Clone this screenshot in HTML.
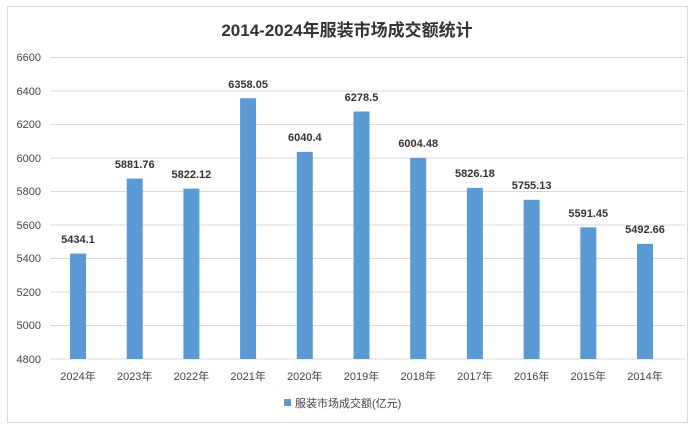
<!DOCTYPE html>
<html><head><meta charset="utf-8"><style>
body{margin:0;background:#fff;}
svg text{font-family:"Liberation Sans","Noto Sans CJK SC",sans-serif;}
</style></head><body>
<svg width="695" height="430" xmlns="http://www.w3.org/2000/svg">
<rect x="0" y="0" width="695" height="430" fill="#fff"/>
<rect x="7.5" y="6.5" width="680" height="416" fill="none" stroke="#d9d9d9"/>
<text x="347" y="36" text-anchor="middle" font-size="17" font-weight="bold" fill="#333">2014-2024年服装市场成交额统计</text>
<g stroke="#d9d9d9" stroke-width="1">
<line x1="50" x2="685" y1="57.5" y2="57.5"/><line x1="50" x2="685" y1="91" y2="91"/><line x1="50" x2="685" y1="124.5" y2="124.5"/><line x1="50" x2="685" y1="158" y2="158"/><line x1="50" x2="685" y1="191.5" y2="191.5"/><line x1="50" x2="685" y1="225" y2="225"/><line x1="50" x2="685" y1="258.5" y2="258.5"/><line x1="50" x2="685" y1="292" y2="292"/><line x1="50" x2="685" y1="325.5" y2="325.5"/><line x1="50" x2="685" y1="359" y2="359"/>
</g>
<g font-size="11" fill="#444" text-anchor="end">
<text x="41" y="61">6600</text><text x="41" y="95">6400</text><text x="41" y="128">6200</text><text x="41" y="162">6000</text><text x="41" y="195">5800</text><text x="41" y="229">5600</text><text x="41" y="262">5400</text><text x="41" y="296">5200</text><text x="41" y="329">5000</text><text x="41" y="363">4800</text>
</g>
<g fill="#5b9bd5">
<rect x="70" y="253.6" width="16" height="105.4"/>
<rect x="126.7" y="178.6" width="16" height="180.4"/>
<rect x="183.4" y="188.6" width="16" height="170.4"/>
<rect x="240.1" y="98.2" width="16" height="260.8"/>
<rect x="296.8" y="151.9" width="16" height="207.1"/>
<rect x="353.5" y="111.5" width="16" height="247.5"/>
<rect x="410.2" y="157.9" width="16" height="201.1"/>
<rect x="466.9" y="187.9" width="16" height="171.1"/>
<rect x="523.6" y="199.8" width="16" height="159.2"/>
<rect x="580.3" y="227.3" width="16" height="131.7"/>
<rect x="637" y="243.8" width="16" height="115.2"/>
</g>
<g font-size="11" font-weight="bold" fill="#333" text-anchor="middle">
<text x="78" y="243">5434.1</text><text x="134.7" y="168">5881.76</text><text x="191.4" y="178">5822.12</text><text x="248.1" y="88">6358.05</text><text x="304.8" y="141">6040.4</text><text x="361.5" y="101">6278.5</text><text x="418.2" y="147">6004.48</text><text x="474.9" y="177">5826.18</text><text x="531.6" y="189">5755.13</text><text x="588.3" y="217">5591.45</text><text x="645" y="233">5492.66</text>
</g>
<g font-size="11" fill="#444" text-anchor="middle">
<text x="78" y="380">2024年</text><text x="134.7" y="380">2023年</text><text x="191.4" y="380">2022年</text><text x="248.1" y="380">2021年</text><text x="304.8" y="380">2020年</text><text x="361.5" y="380">2019年</text><text x="418.2" y="380">2018年</text><text x="474.9" y="380">2017年</text><text x="531.6" y="380">2016年</text><text x="588.3" y="380">2015年</text><text x="645" y="380">2014年</text>
</g>
<rect x="284" y="399" width="7" height="7" fill="#5b9bd5"/>
<text x="295" y="407" font-size="11" fill="#444">服装市场成交额(亿元)</text>
</svg>
</body></html>
